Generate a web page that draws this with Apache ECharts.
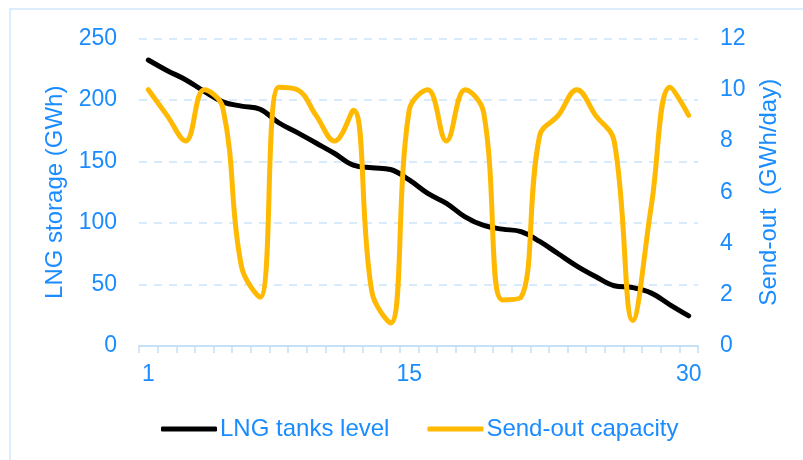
<!DOCTYPE html>
<html>
<head>
<meta charset="utf-8">
<script src="https://cdn.jsdelivr.net/npm/echarts@6/dist/echarts.min.js"></script>
<style>
  html, body { margin: 0; padding: 0; background: #ffffff; }
  #chart { width: 803px; height: 460px; }
</style>
</head>
<body>
<div id="chart"></div>
<script>
// Days of the month
const days = Array.from({ length: 30 }, (_, i) => String(i + 1));
// LNG held in tanks (GWh)
const tanksLevel = [232.5, 224, 216.5, 207, 198.5, 195, 192.5, 181.5, 173.5, 165,
                    156.5, 147, 145, 143.5, 135, 124, 116, 105, 98, 95,
                    93, 85, 75, 65, 56.5, 49, 47.5, 43, 33.5, 24.5];
// Daily send-out capacity (GWh/day)
const sendOut = [10, 9, 8, 10, 9.3, 3.1, 1.9, 10.1, 10, 9,
                 8, 9.2, 2.1, 0.9, 9.2, 10, 8, 10, 9.1, 1.8,
                 1.9, 8.2, 9, 10, 9, 8, 1, 5.5, 10.1, 9];
// Category labels that are printed on the day axis
const shownDays = ['1', '15', '30'];

const blue = '#1a8cff';
const font = 'Liberation Sans, Arial, sans-serif';
const fs = 23;
const fsBig = 24;

const chart = echarts.init(document.getElementById('chart'), null, { renderer: 'canvas' });
chart.setOption({
  animation: false,
  backgroundColor: '#ffffff',
  graphic: [{
    type: 'rect',
    shape: { x: 10, y: 9, width: 820, height: 480 },
    style: { fill: 'none', stroke: '#d2e8fb', lineWidth: 1.5 },
    silent: true
  }],
  grid: { left: 139, right: 105, top: 38.5, bottom: 114 },
  legend: {
    top: 412,
    left: 156,
    itemWidth: 56,
    itemHeight: 5,
    itemGap: 38,
    icon: 'roundRect',
    textStyle: { color: blue, fontSize: fsBig, fontFamily: font, padding: [0, 0, 0, -2] },
    data: ['LNG tanks level', 'Send-out capacity']
  },
  xAxis: {
    type: 'category',
    data: days,
    boundaryGap: true,
    axisLine: { lineStyle: { color: '#c6e0f8', width: 2 } },
    axisTick: { show: true, length: 7, interval: 0, lineStyle: { color: '#c6e0f8', width: 1.5 } },
    axisLabel: {
      color: blue, fontSize: fs, fontFamily: font, margin: 17,
      interval: 0,
      formatter: v => (shownDays.includes(v) ? v : '')
    },
    splitLine: { show: false }
  },
  yAxis: [{
    type: 'value',
    min: 0, max: 250, interval: 50,
    name: 'LNG storage (GWh)',
    nameLocation: 'middle',
    nameGap: 68,
    nameTextStyle: { color: blue, fontSize: fsBig, fontFamily: font },
    axisLine: { show: false },
    axisTick: { show: false },
    axisLabel: { color: blue, fontSize: fs, fontFamily: font, margin: 22 },
    splitLine: { lineStyle: { color: '#cce5fb', type: [8, 7], width: 1.5 } }
  }, {
    type: 'value',
    min: 0, max: 12, interval: 2,
    position: 'right',
    name: 'Send-out  (GWh/day)',
    nameLocation: 'middle',
    nameRotate: 90,
    nameGap: 59,
    nameTextStyle: { color: blue, fontSize: fsBig, fontFamily: font },
    axisLine: { show: false },
    axisTick: { show: false },
    axisLabel: { color: blue, fontSize: fs, fontFamily: font, margin: 22 },
    splitLine: { show: false }
  }],
  series: [{
    name: 'LNG tanks level',
    type: 'line',
    yAxisIndex: 0,
    data: tanksLevel,
    smooth: 0.4,
    showSymbol: false,
    itemStyle: { color: '#000000' },
    lineStyle: { color: '#000000', width: 5, cap: 'round', join: 'round' },
    z: 3
  }, {
    name: 'Send-out capacity',
    type: 'line',
    yAxisIndex: 1,
    data: sendOut,
    smooth: 0.4,
    showSymbol: false,
    itemStyle: { color: '#ffb900' },
    lineStyle: { color: '#ffb900', width: 5, cap: 'round', join: 'round' },
    z: 4
  }]
});
</script>
</body>
</html>
